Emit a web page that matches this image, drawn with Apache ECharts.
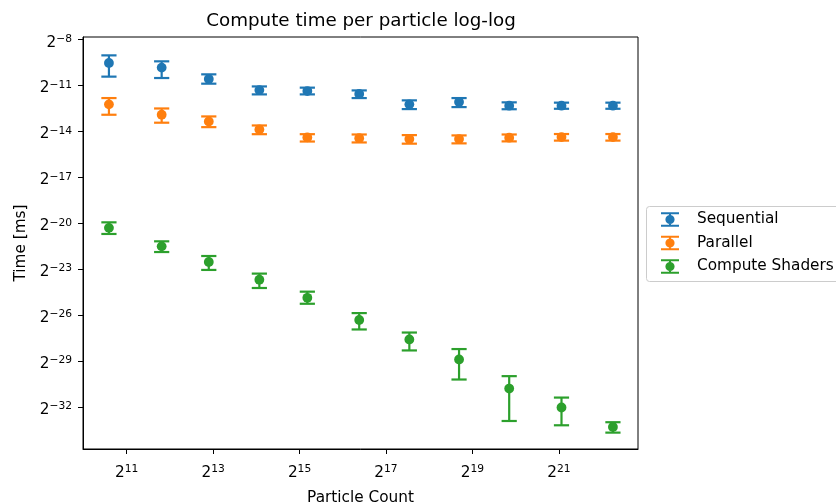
<!DOCTYPE html>
<html>
<head>
<meta charset="utf-8">
<script src="https://cdn.jsdelivr.net/npm/echarts@6/dist/echarts.min.js"></script>
<style>
  html, body { margin: 0; padding: 0; background: #fff; }
  #main { width: 836px; height: 504px; }
</style>
</head>
<body>
<div id="main"></div>
<script>
// values, as log2 exponents
var countLog2 = [10.59, 11.81, 12.90, 14.07, 15.18, 16.38, 17.54, 18.69, 19.85, 21.06, 22.25];

var seqMid = [-9.53, -9.83, -10.58, -11.30, -11.36, -11.55, -12.23, -12.08, -12.32, -12.32, -12.32];
var seqHi  = [-9.03, -9.42, -10.27, -11.06, -11.14, -11.32, -11.97, -11.82, -12.10, -12.12, -12.12];
var seqLo  = [-10.42, -10.51, -10.88, -11.58, -11.58, -11.82, -12.54, -12.41, -12.55, -12.52, -12.52];

var parMid = [-12.23, -12.91, -13.35, -13.87, -14.39, -14.44, -14.50, -14.50, -14.41, -14.37, -14.37];
var parHi  = [-11.82, -12.50, -13.02, -13.61, -14.18, -14.20, -14.24, -14.26, -14.20, -14.17, -14.17];
var parLo  = [-12.91, -13.43, -13.72, -14.18, -14.66, -14.72, -14.80, -14.78, -14.65, -14.60, -14.60];

var gpuMid = [-20.30, -21.51, -22.53, -23.69, -24.87, -26.32, -27.59, -28.90, -30.80, -32.04, -33.31];
var gpuHi  = [-19.94, -21.18, -22.14, -23.29, -24.47, -25.87, -27.14, -28.22, -29.99, -31.39, -33.00];
var gpuLo  = [-20.70, -21.88, -23.05, -24.23, -25.26, -26.94, -28.31, -30.21, -32.92, -33.20, -33.68];

var xTicks = [11, 13, 15, 17, 19, 21];
var yTicks = [-8, -11, -14, -17, -20, -23, -26, -29, -32];

var FONT = 'DejaVu Sans';
var p2 = function (e) { return Math.pow(2, e); };

var chart = echarts.init(document.getElementById('main'));

// errorbar glyph for the legend: two caps, a stem and a dot
var errIcon = 'path://M0 0H18V2H0Z M0 12.5H18V14.5H0Z M8 0H10V14.5H8Z M9 2.65A4.6 4.6 0 1 1 8.99 2.65Z';

function powLabel(v) {
    var e = Math.round(Math.log2(v));
    var s = e < 0 ? '\u2212' + (-e) : '' + e;
    return '{b|2}{s|' + s + '}';
}

var labelRich = {
    b: { fontFamily: FONT, fontSize: 15.3, lineHeight: 18, color: '#000' },
    s: { fontFamily: FONT, fontSize: 10.7, lineHeight: 11, color: '#000', padding: [0, 0, 7, 0] }
};

function makeSeries(name, color, mid, lo, hi) {
    var pts = [], bars = [];
    for (var i = 0; i < countLog2.length; i++) {
        pts.push([p2(countLog2[i]), p2(mid[i])]);
        bars.push([p2(countLog2[i]), p2(lo[i]), p2(hi[i])]);
    }
    return [
        {
            name: name,
            type: 'custom',
            data: bars,
            encode: { x: 0, y: [1, 2] },
            itemStyle: { color: color },
            z: 2,
            renderItem: function (params, api) {
                var a = api.coord([api.value(0), api.value(2)]);
                var b = api.coord([api.value(0), api.value(1)]);
                var cap = 7.6;
                var st = { stroke: color, lineWidth: 2.2 };
                return {
                    type: 'group',
                    children: [
                        { type: 'line', shape: { x1: a[0], y1: a[1], x2: b[0], y2: b[1] }, style: st },
                        { type: 'line', shape: { x1: a[0] - cap, y1: a[1], x2: a[0] + cap, y2: a[1] }, style: st },
                        { type: 'line', shape: { x1: b[0] - cap, y1: b[1], x2: b[0] + cap, y2: b[1] }, style: st }
                    ]
                };
            }
        },
        {
            name: name,
            type: 'scatter',
            data: pts,
            symbol: 'circle',
            symbolSize: 9.8,
            itemStyle: { color: color, opacity: 1 },
            z: 3
        }
    ];
}

var series = []
    .concat(makeSeries('Sequential', '#1f77b4', seqMid, seqLo, seqHi))
    .concat(makeSeries('Parallel', '#ff7f0e', parMid, parLo, parHi))
    .concat(makeSeries('Compute Shaders', '#2ca02c', gpuMid, gpuLo, gpuHi));

var option = {
    animation: false,
    backgroundColor: '#fff',
    title: {
        text: 'Compute time per particle log-log',
        left: 361,
        top: 12,
        padding: 0,
        textAlign: 'center',
        textStyle: { fontFamily: FONT, fontSize: 18.3, fontWeight: 'normal', color: '#000' }
    },
    legend: {
        orient: 'vertical',
        left: 646.5,
        top: 206.5,
        padding: [5.5, 30, 7.5, 14.5],
        itemGap: 8.5,
        itemWidth: 18,
        itemHeight: 14.5,
        borderColor: '#cccccc',
        borderWidth: 1,
        borderRadius: 3,
        data: [
            { name: 'Sequential', icon: errIcon },
            { name: 'Parallel', icon: errIcon },
            { name: 'Compute Shaders', icon: errIcon }
        ],
        textStyle: { fontFamily: FONT, fontSize: 15.3, color: '#000', lineHeight: 15, padding: [0, 0, 0, 13] }
    },
    grid: {
        left: 83,
        top: 37,
        right: 198,
        bottom: 55,
        outerBoundsMode: 'none',
        show: true,
        borderColor: '#000',
        borderWidth: 1
    },
    xAxis: {
        type: 'log',
        logBase: 2,
        min: p2(9.99),
        max: p2(22.83),
        name: 'Particle Count',
        nameLocation: 'middle',
        nameGap: 41.5,
        nameTextStyle: { fontFamily: FONT, fontSize: 15.3, color: '#000' },
        axisLine: { show: true, lineStyle: { color: '#000', width: 1 } },
        axisTick: { show: true, inside: false, length: 5, lineStyle: { color: '#000' }, customValues: xTicks.map(p2) },
        axisLabel: { margin: 15, formatter: powLabel, rich: labelRich, customValues: xTicks.map(p2) },
        splitLine: { show: false },
        minorTick: { show: false }
    },
    yAxis: {
        type: 'log',
        logBase: 2,
        min: p2(-34.75),
        max: p2(-7.83),
        name: 'Time [ms]',
        nameLocation: 'middle',
        nameGap: 52.5,
        nameTextStyle: { fontFamily: FONT, fontSize: 15.3, color: '#000' },
        axisLine: { show: true, lineStyle: { color: '#000', width: 1 } },
        axisTick: { show: true, inside: false, length: 5, lineStyle: { color: '#000' }, customValues: yTicks.map(p2) },
        axisLabel: { margin: 11, padding: [6, 0, 0, 0], formatter: powLabel, rich: labelRich, customValues: yTicks.map(p2) },
        splitLine: { show: false },
        minorTick: { show: false }
    },
    series: series
};

chart.setOption(option);
</script>
</body>
</html>
